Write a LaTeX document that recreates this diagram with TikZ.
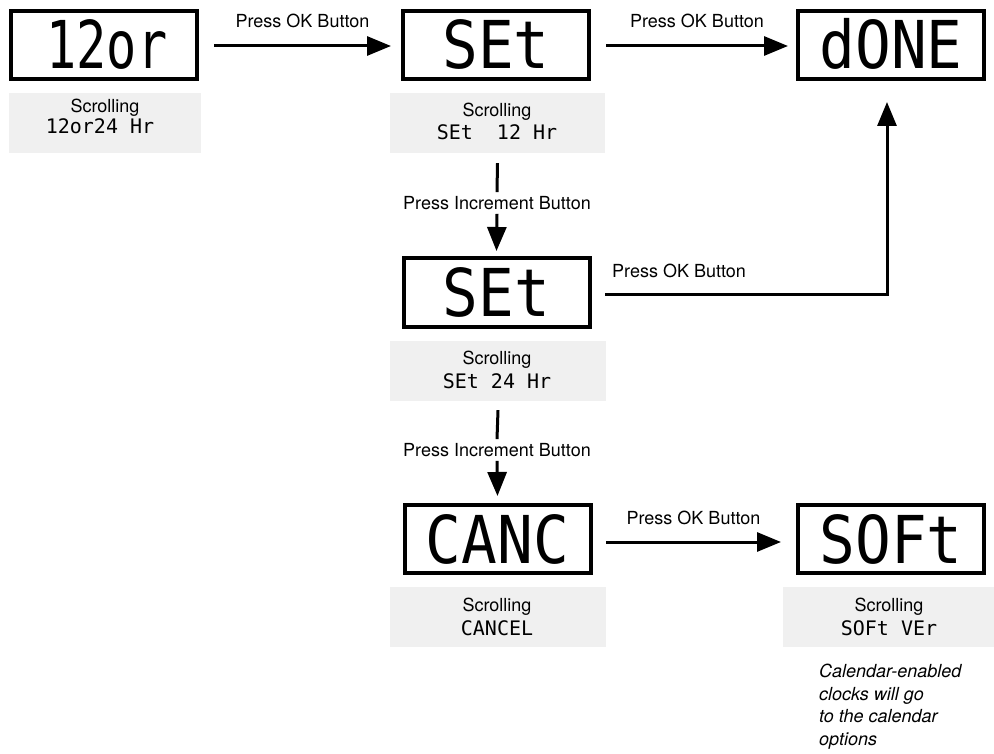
\documentclass[tikz,border=0pt]{standalone}
\usepackage{fontspec}
\usepackage{graphicx}
\setmainfont{TeX Gyre Heros}
\newfontfamily\segfont{DejaVu Sans Mono}
\usetikzlibrary{arrows.meta}
\definecolor{panelgrey}{HTML}{F0F0F0}
\begin{document}
\begin{tikzpicture}[x=1pt,y=-1pt,
  disp/.style={draw,line width=4pt,minimum width=186pt,minimum height=68pt,inner sep=0pt,
    text height=48pt,text depth=0pt,font=\segfont\fontsize{66}{66}\selectfont},
  panel/.style={fill=panelgrey,inner sep=0pt,minimum height=60pt},
  scrl/.style={inner sep=0pt,text height=13pt,text depth=0pt,font=\fontsize{18}{22}\selectfont},
  segl/.style={inner sep=0pt,text height=14.6pt,text depth=0pt,font=\segfont\fontsize{20}{20}\selectfont},
  lbl/.style={inner sep=0pt,font=\fontsize{18}{22}\selectfont},
  conn/.style={line width=3pt,-{Triangle[length=24pt,width=19pt]}},
  plainline/.style={line width=3pt}]

\useasboundingbox (0,0) rectangle (994,754);

% displays
\node[disp] (b1) at (104,45) {\hspace*{6pt}\scalebox{0.76}[1]{12or}};
\node[disp] (b2) at (496,45) {\scalebox{0.9}[1]{SEt}};
\node[disp] (b3) at (891,45) {\scalebox{0.9}[1]{dONE}};
\node[disp] (b4) at (496.5,292.5) {\scalebox{0.9}[1]{SEt}};
\node[disp] (b5) at (497.5,539) {\scalebox{0.9}[1]{CANC}};
\node[disp] (b6) at (891,539) {\scalebox{0.9}[1]{SOFt}};

% scrolling panels
\node[panel,minimum width=192pt] (g1) at (105,123) {};
\node[scrl] (s1) at (105,106) {Scrolling};
\node[segl] (t1) at (100,126) {12or24 Hr};

\node[panel,minimum width=215pt] (g2) at (497.5,123) {};
\node[scrl] (s2) at (497,110) {Scrolling};
\node[segl] (t2) at (497,132) {SEt~~12 Hr};

\node[panel,minimum width=216pt] (g4) at (498,371) {};
\node[scrl] (s4) at (497,358) {Scrolling};
\node[segl] (t4) at (497,381) {SEt 24 Hr};

\node[panel,minimum width=216pt] (g5) at (498,617) {};
\node[scrl] (s5) at (497,605) {Scrolling};
\node[segl] (t5) at (497,628) {CANCEL};

\node[panel,minimum width=211pt] (g6) at (888.5,617) {};
\node[scrl] (s6) at (889,605) {Scrolling};
\node[segl] (t6) at (889,628) {SOFt VEr};

% connectors
\draw[conn] ([xshift=15pt,yshift=-1pt]b1.east) -- node[lbl,above=17pt] (l1) {Press OK Button} ([xshift=-10pt,yshift=-1pt]b2.west);
\draw[conn] ([xshift=15pt,yshift=-1pt]b2.east) -- node[lbl,above=17pt] (l2) {Press OK Button} ([xshift=-8pt,yshift=-1pt]b3.west);

\node[lbl] (l3) at (497,203) {Press Increment Button};
\draw[plainline] ([yshift=-10pt]g2.south) -- ([yshift=4pt]l3.north);
\draw[conn] ([yshift=-4pt]l3.south) -- ([yshift=5.5pt]b4.north);

\node[lbl,anchor=west] (l4) at (612,271) {Press OK Button};
\draw[conn] ([xshift=13.5pt,yshift=-2.5pt]b4.east) -| ([xshift=-4pt,yshift=-21pt]b3.south);

\node[lbl] (l5) at (497,450) {Press Increment Button};
\draw[plainline] ([yshift=-9pt]g4.south) -- ([yshift=4pt]l5.north);
\draw[conn] ([yshift=-4pt]l5.south) -- ([yshift=7pt]b5.north);

\draw[conn] ([xshift=13.5pt,yshift=-3pt]b5.east) -- node[lbl,above=15.5pt] (l6) {Press OK Button} ([xshift=-15pt,yshift=-3pt]b6.west);

% note
\node[inner sep=0pt,anchor=north west,align=left,font=\itshape\fontsize{18}{22.5}\selectfont] (note) at (819,664)
  {Calendar-enabled\\clocks will go\\to the calendar\\options};
\end{tikzpicture}
\end{document}
